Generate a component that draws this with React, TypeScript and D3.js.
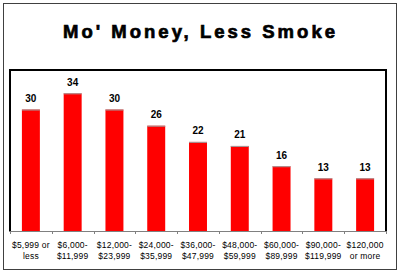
import React from "react";
import * as d3 from "d3";

const categories = [
  ["$5,999 or", "less"],
  ["$6,000-", "$11,999"],
  ["$12,000-", "$23,999"],
  ["$24,000-", "$35,999"],
  ["$36,000-", "$47,999"],
  ["$48,000-", "$59,999"],
  ["$60,000-", "$89,999"],
  ["$90,000-", "$119,999"],
  ["$120,000", "or more"],
];
const values = [30, 34, 30, 26, 22, 21, 16, 13, 13];
const title = "Mo' Money, Less Smoke";

export default function App() {
  const W = 400, H = 274;
  const left = 10, right = 386, top = 69, bottom = 231;
  const keys = categories.map((_, i) => String(i));
  const x = d3.scaleBand().domain(keys).range([left, right]).paddingInner(0).paddingOuter(0);
  const y = d3.scaleLinear().domain([0, 40]).range([bottom, top]);
  const bw = x.bandwidth() * 0.43;
  const ticks = d3.range(categories.length + 1).map(i => left + i * x.step());
  return (
    <svg width={W} height={H} style={{ position: "absolute", left: 0, top: 0, background: "#fff" }}>
      <rect x={3.5} y={3.5} width={393} height={266} fill="#fff" stroke="#404040" strokeWidth={1} />
      <text x={199} y={38} textAnchor="middle" fontFamily="Liberation Sans, Arial, sans-serif" fontWeight="bold"
        fontSize={18.5} textLength={272} lengthAdjust="spacing" fill="#000" stroke="#000" strokeWidth={0.7}>{title}</text>
      {values.map((v, i) => {
        const cx = x(String(i))! + x.bandwidth() / 2;
        return (
          <g key={i}>
            <rect x={cx - bw / 2} y={y(v)} width={bw} height={bottom - y(v)} fill="#ff0000" />
            <line x1={cx - bw / 2} x2={cx + bw / 2} y1={y(v) + 0.5} y2={y(v) + 0.5} stroke="#a0a0a0" strokeWidth={1} />
            <text x={cx} y={y(v) - 7.5} textAnchor="middle" fontFamily="Liberation Sans, Arial, sans-serif"
              fontWeight="bold" fontSize={10} fill="#000">{v}</text>
          </g>
        );
      })}
      <path d={`M${left},${bottom} V${top + 1} H${right} V${bottom}`} fill="none" stroke="#000" strokeWidth={2} />
      <line x1={left - 1} x2={right + 1} y1={bottom + 0.5} y2={bottom + 0.5} stroke="#808080" strokeWidth={1} />
      {ticks.map((t, i) => (
        <line key={i} x1={Math.round(t) + 0.5} x2={Math.round(t) + 0.5} y1={bottom} y2={bottom + 3} stroke="#808080" strokeWidth={1} />
      ))}
      {categories.map((c, i) => {
        const cx = x(String(i))! + x.bandwidth() / 2;
        return (
          <text key={i} textAnchor="middle" fontFamily="Liberation Sans, Arial, sans-serif" fontSize={8.5}
            letterSpacing={0.2} fill="#000">
            <tspan x={cx} y={247.5}>{c[0]}</tspan>
            <tspan x={cx} y={259}>{c[1]}</tspan>
          </text>
        );
      })}
    </svg>
  );
}
